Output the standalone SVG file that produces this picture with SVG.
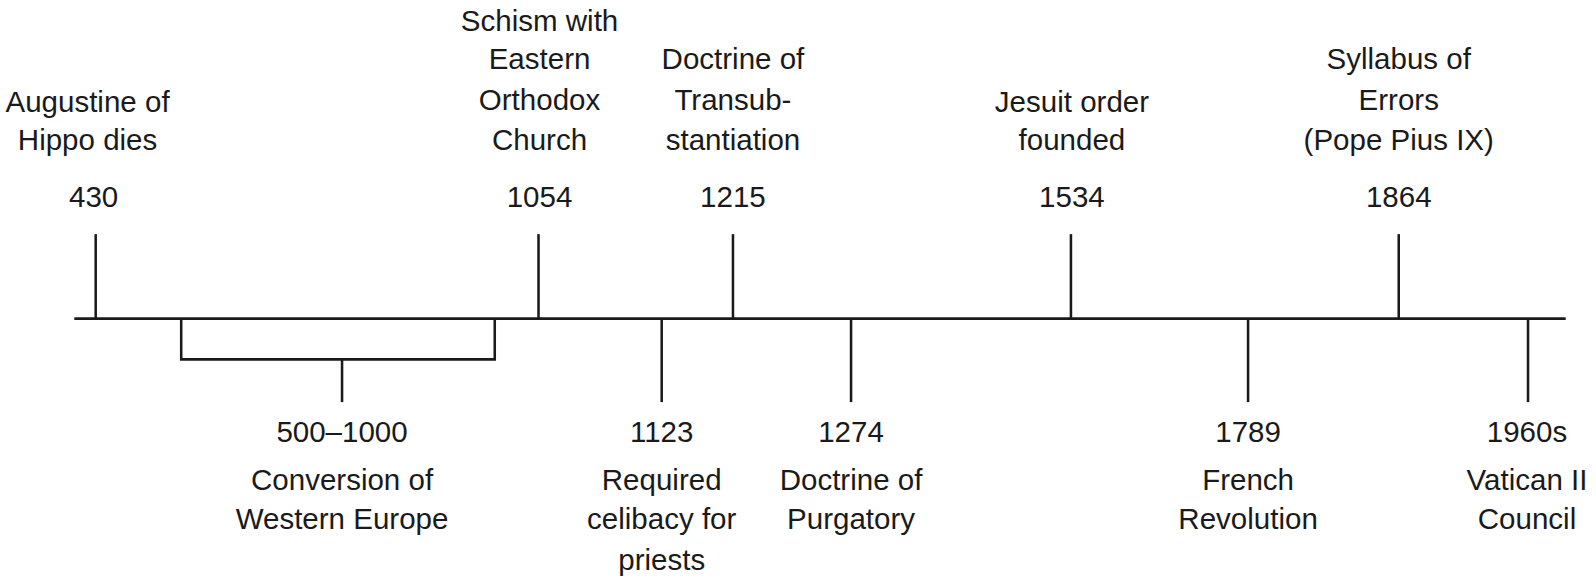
<svg xmlns="http://www.w3.org/2000/svg" width="1596" height="579" viewBox="0 0 1596 579">
<style>
text{font-family:"Liberation Sans",Arial,sans-serif;font-size:29px;fill:#1a1a1a;text-anchor:middle}
line,polyline{stroke:#1a1a1a;stroke-width:2.5;fill:none}
</style>
<rect width="1596" height="579" fill="#fff"/>
<g transform="scale(1.018)">
<g id="connectors">
<line x1="73" y1="313" x2="1538" y2="313"/>
<line x1="94" y1="230" x2="94" y2="313"/>
<line x1="529" y1="230" x2="529" y2="313"/>
<line x1="720" y1="230" x2="720" y2="313"/>
<line x1="1052" y1="230" x2="1052" y2="313"/>
<line x1="1374" y1="230" x2="1374" y2="313"/>
<line x1="650" y1="313" x2="650" y2="395"/>
<line x1="836" y1="313" x2="836" y2="395"/>
<line x1="1226" y1="313" x2="1226" y2="395"/>
<line x1="1501" y1="313" x2="1501" y2="395"/>
<polyline points="178,313 178,353 486,353 486,313"/>
<line x1="336" y1="353" x2="336" y2="395"/>
</g>
<g id="n430"><text x="86" y="110">Augustine of</text><text x="86" y="147">Hippo dies</text><text x="92" y="203">430</text></g>
<g id="n1054"><text x="530" y="30">Schism with</text><text x="530" y="68">Eastern</text><text x="530" y="108">Orthodox</text><text x="530" y="147">Church</text><text x="530" y="203">1054</text></g>
<g id="n1215"><text x="720" y="68">Doctrine of</text><text x="720" y="108">Transub-</text><text x="720" y="147">stantiation</text><text x="720" y="203">1215</text></g>
<g id="n1534"><text x="1053" y="110">Jesuit order</text><text x="1053" y="147">founded</text><text x="1053" y="203">1534</text></g>
<g id="n1864"><text x="1374" y="68">Syllabus of</text><text x="1374" y="108">Errors</text><text x="1374" y="147">(Pope Pius IX)</text><text x="1374" y="203">1864</text></g>
<g id="n500"><text x="336" y="434">500–1000</text><text x="336" y="481">Conversion of</text><text x="336" y="520">Western Europe</text></g>
<g id="n1123"><text x="650" y="434">1123</text><text x="650" y="481">Required</text><text x="650" y="520">celibacy for</text><text x="650" y="560">priests</text></g>
<g id="n1274"><text x="836" y="434">1274</text><text x="836" y="481">Doctrine of</text><text x="836" y="520">Purgatory</text></g>
<g id="n1789"><text x="1226" y="434">1789</text><text x="1226" y="481">French</text><text x="1226" y="520">Revolution</text></g>
<g id="n1960"><text x="1500" y="434">1960s</text><text x="1500" y="481">Vatican II</text><text x="1500" y="520">Council</text></g>
</g>
</svg>
